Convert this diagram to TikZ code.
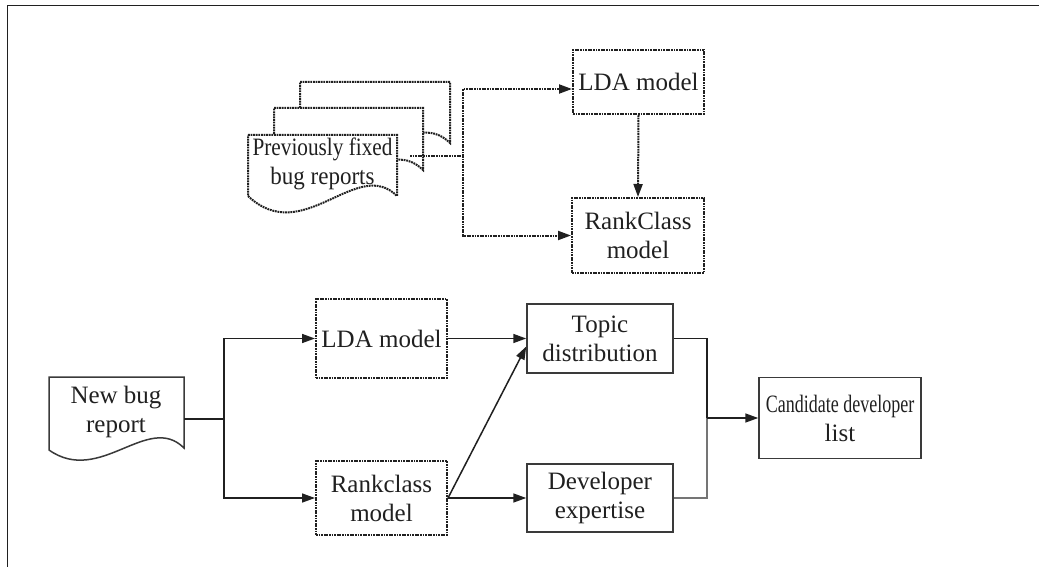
\documentclass[tikz,border=0pt]{standalone}
\usepackage{fontspec}
\setmainfont{Liberation Serif}
\newfontfamily\labelfont{Liberation Serif}
\usetikzlibrary{arrows.meta,calc}
\definecolor{ink}{HTML}{202020}
\definecolor{soft}{HTML}{3A3A3A}
\begin{document}
\begin{tikzpicture}[x=1pt,y=-1pt,
  every node/.style={font=\labelfont\fontsize{25}{29}\selectfont, text=ink, align=center, inner sep=0pt},
  dots/.style={dash pattern=on 1.8pt off 0.8pt, line width=2pt},
  dotbox/.style={draw=ink, dots},
  solidbox/.style={draw=soft, line width=1.5pt},
  doc/.style={draw=ink, fill=white, dots},
  docsolid/.style={draw=soft, fill=white, line width=1.5pt},
  flow/.style={draw=ink, line width=1.5pt, -{Triangle[length=13pt,width=9pt]}},
  dotflow/.style={flow, dots},
  plain/.style={draw=ink, line width=1.5pt},
]
\useasboundingbox (0,0) rectangle (1039,567);
% frame: top and left rules
\draw[ink, line width=1.6pt] (1039,5.5) -- (7.5,5.5) -- (7.5,567);

% ---------- training stage ----------
% stacked document sheets (back to front)
\path[doc] (300,82) -- (450,82) -- (450,143)
  .. controls (410,103) and (355,195) .. (300,143) -- cycle;
\path[doc] (274,108) -- (423,108) -- (423,170)
  .. controls (383,130) and (329,222) .. (274,170) -- cycle;
\path[doc] (248,135) -- (397,135) -- (397,196)
  .. controls (357,156) and (303,248) .. (248,196) -- cycle;
\node (prev) at (322.5,164) {\scalebox{0.85}[1]{Previously fixed}\\\scalebox{0.92}[1]{bug reports}};
\coordinate (prevout) at (410,156);
\coordinate (fork) at (463,156);

\node[dotbox, minimum width=131pt, minimum height=64pt] (lda1) at (638.5,82) {LDA model};
\node[dotbox, minimum width=132pt, minimum height=75pt] (rc1) at (638,235.5) {RankClass\\model};

\draw[plain, dots] (prevout) -- (fork);
\draw[dotflow] (fork) |- ($(lda1.west)+(0,7)$);
\draw[dotflow] (fork) |- (rc1.west);
\draw[dotflow] (lda1.south) -- (rc1.north);

% ---------- recommendation stage ----------
\path[docsolid] (49,377) -- (184,377) -- (184,448)
  .. controls (148,412) and (100,486) .. (49,450) -- cycle;
\node (newbug) at (116,412) {New bug\\report};
\coordinate (nbout) at (184,419);
\coordinate (split) at (224,419);

\node[dotbox, minimum width=131pt, minimum height=79pt] (lda2) at (381.5,338.5) {LDA model};
\node[dotbox, minimum width=131pt, minimum height=74pt] (rc2) at (381.5,498) {Rankclass\\model};
\node[solidbox, minimum width=146pt, minimum height=69pt] (topic) at (600,338.5) {Topic\\distribution};
\node[solidbox, minimum width=146pt, minimum height=68pt] (dev) at (600,498) {Developer\\expertise};
\node[solidbox, minimum width=162pt, minimum height=81pt] (cand) at (840,418) {\scalebox{0.72}[1]{Candidate developer}\\list};
\coordinate (merge) at (707,418);

\draw[plain] (nbout) -- (split);
\draw[flow] (split) |- (lda2.west);
\draw[flow] (split) |- (rc2.west);
\draw[flow] (lda2.east) -- (topic.west);
\draw[flow] (rc2.east) -- ($(topic.west)+(0,8)$);
\draw[flow] (rc2.east) -- (dev.west);
\draw[plain] (topic.east) -| (merge);
\draw[plain, draw=soft!70] (dev.east) -| (merge);
\draw[flow] (merge) -- (cand.west);
\end{tikzpicture}
\end{document}
